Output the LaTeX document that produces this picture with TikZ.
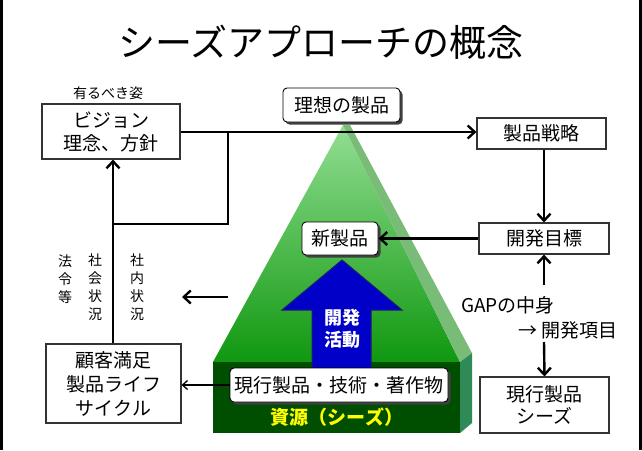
\documentclass[tikz,border=0pt]{standalone}
\usepackage{fontspec}
\setmainfont{Noto Sans CJK JP}
\usetikzlibrary{arrows.meta,shadows}
\newcommand{\fsz}[2]{\fontsize{#1}{#2}\selectfont}
\definecolor{pyrtop}{RGB}{146,222,146}
\definecolor{pyrbot}{RGB}{16,152,16}
\definecolor{stripe}{RGB}{120,188,120}
\definecolor{basefront}{RGB}{0,78,0}
\definecolor{baseside}{RGB}{48,138,88}
\definecolor{arrowblue}{RGB}{0,0,200}
\definecolor{arrowedge}{RGB}{30,30,110}
\definecolor{seedyellow}{RGB}{255,255,0}
\begin{document}
\begin{tikzpicture}[x=1pt,y=-1pt,
  box/.style={draw=black!80, line width=1.1pt, fill=white, inner sep=0pt, align=center, font=\fsz{19}{23}},
  rbox/.style={draw=black, line width=0.9pt, fill=white, rounded corners=4pt, inner sep=0pt, align=center, font=\fsz{19}{23},
    drop shadow={shadow xshift=2.5pt, shadow yshift=-2.5pt, opacity=1, fill=black!75}},
  plain/.style={inner sep=0pt, align=center, font=\fsz{19}{23}},
  vt/.style={inner sep=0pt, align=center, font=\fsz{14}{18}},
  conn/.style={line width=2.4pt},
  arr/.style={conn, -{Straight Barb[length=7pt,width=13pt]}},
  thinarr/.style={line width=1.3pt, -{Straight Barb[length=5pt,width=9pt]}},
  frameline/.style={line width=2.6pt}
]
\useasboundingbox (0,0) rectangle (642,450);
\fill[white] (0,0) rectangle (642,450);
% side frame lines
\draw[frameline] (1.3,0) -- (1.3,450);
\draw[frameline] (640.7,0) -- (640.7,450);

% pyramid
\shade[top color=pyrtop, bottom color=pyrbot] (343,125) -- (213,362) -- (460,362) -- cycle;
\fill[stripe] (343,125) -- (350,125) -- (472,353) -- (460,362) -- cycle;
\fill[basefront] (213,362) rectangle (460,433);
\fill[baseside] (460,362) -- (472,353) -- (472,423) -- (460,433) -- cycle;

% blue arrow
\draw[fill=arrowblue, draw=arrowedge, line width=1pt, line join=miter]
  (342,260) -- (402,310) -- (371,310) -- (371,372) -- (312,372) -- (312,310) -- (282,310) -- cycle;
\node[plain, text=white, font=\bfseries\fsz{18}{22}] (act) at (342,329) {開発\\活動};

% title
\node[inner sep=0pt] (title) at (321,42) {\fsz{37}{40}シーズアプローチの概念};

% nodes
\node[plain, font=\fsz{14}{16}] (ideal) at (108,93) {有るべき姿};
\node[box, minimum width=138pt, minimum height=55pt] (vision) at (111,131.5) {ビジョン\\理念、方針};
\node[rbox, minimum width=117pt, minimum height=34pt] (idealprod) at (341.5,105) {理想の製品};
\node[box, minimum width=129pt, minimum height=31pt] (strat) at (541.5,133.5) {製品戦略};
\node[box, minimum width=130pt, minimum height=31pt] (goal) at (544,238.5) {開発目標};
\node[rbox, minimum width=76pt, minimum height=33pt] (newprod) at (340,238.5) {新製品};
\node[box, minimum width=129pt, minimum height=56pt, font=\fsz{19}{22}] (seeds) at (544.5,405) {現行製品\\シーズ};
\node[box, minimum width=135pt, minimum height=79pt, font=\fsz{19}{24}] (cust) at (113.5,383.5) {顧客満足\\製品ライフ\\サイクル};
\node[rbox, minimum width=218pt, minimum height=34pt] (current) at (339,385) {現行製品・技術・著作物};
\node[plain, text=seedyellow, font=\bfseries\fsz{19}{22}] (res) at (337,417) {資源（シーズ）};

\node[plain, anchor=west] (gap1) at (461,305) {GAPの中身};
\node[plain, anchor=east] (gap2) at (618,330) {→ 開発項目};

\node[vt] (law) at (65,279) {法\\令\\等};
\node[vt] (soc) at (95,287) {社\\会\\状\\況};
\node[vt] (inn) at (137,287) {社\\内\\状\\況};

% coordinates
\coordinate (j1) at (228,132);
\coordinate (j2) at (228,224);
\coordinate (j3) at (113,224);
\coordinate (g1) at (544,285);
\coordinate (g2) at (544,342);
\coordinate (la1) at (228,297);
\coordinate (la2) at (182,297);

% connectors
\draw[arr] (vision.east |- j1) -- (strat.west |- j1);
\draw[conn] (j1) -- (j2) -- (j3);
\draw[arr] (cust.north -| j3) -- (vision.south -| j3);
\draw[arr] (strat.south -| goal.north) -- (goal.north);
\draw[arr] (goal.west) -- (newprod.east);
\draw[arr] (g1) -- (goal.south);
\draw[arr] (g2) -- (seeds.north);
\draw[arr] (la1) -- (la2);
\draw[thinarr] (current.west) -- (current.west -| cust.east);
\end{tikzpicture}
\end{document}
